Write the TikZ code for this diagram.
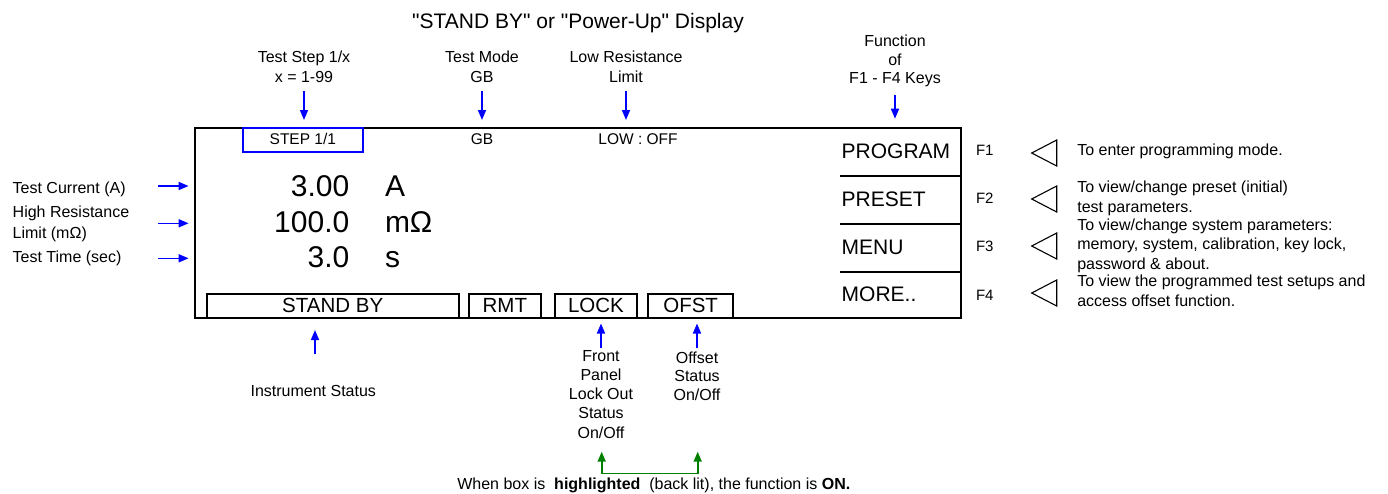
\documentclass[tikz,border=0pt]{standalone}
\usepackage{fontspec}
\setmainfont{Liberation Sans}[Ligatures=TeXOff]
\usetikzlibrary{arrows.meta}
\begin{document}
\begin{tikzpicture}[x=1pt,y=-1pt,
  every node/.style={inner sep=0pt, outer sep=0pt},
  arr/.style={draw=blue, line width=1.6pt, -{Triangle[width=8pt,length=10pt]}},
  garr/.style={draw=green!50!black, line width=1.6pt, {Triangle[width=8pt,length=10pt]}-{Triangle[width=8pt,length=10pt]}},
  lbl/.style={align=center, font=\fontsize{16}{20}\selectfont},
  txt/.style={font=\fontsize{16}{19.5}\selectfont},
  disptxt/.style={font=\fontsize{15.5}{18}\selectfont},
  bignum/.style={font=\fontsize{30}{36}\selectfont},
  menutxt/.style={font=\fontsize{21}{25}\selectfont, anchor=base west},
  ftxt/.style={font=\fontsize{15}{18}\selectfont, anchor=base west},
  desc/.style={align=left, anchor=north west, font=\fontsize{16}{19.5}\selectfont},
  sbox/.style={draw, line width=1.7pt, anchor=south west, minimum height=24pt, font=\fontsize{20.5}{24}\selectfont},
  ktri/.style={draw, line width=1.1pt, line join=miter}
]
\useasboundingbox (0,0) rectangle (1388,493);

% title
\node[font=\fontsize{21}{25}\selectfont, anchor=base] (title) at (578,28) {"STAND BY" or "Power-Up" Display};

% top labels
\node[lbl, anchor=north] (lstep) at (304,51.2) {Test Step 1/x\\x = 1-99};
\node[lbl, anchor=north] (lmode) at (482,51.2) {Test Mode\\GB};
\node[lbl, anchor=north] (llow) at (626,51.2) {Low Resistance\\Limit};
\node[lbl, anchor=north, font=\fontsize{16}{18.3}\selectfont] (lfunc) at (895,35.2) {Function\\of\\F1 - F4 Keys};

% main display
\node[draw, line width=1.7pt, minimum width=766pt, minimum height=190pt, anchor=north west] (disp) at (195,127.7) {};

\node[draw=blue, line width=1.7pt, minimum width=120.3pt, minimum height=24.3pt, anchor=north west,
      text height=11pt, text depth=2.7pt, disptxt] (stepbox) at (242.7,127.7) {STEP 1/1};
\node[disptxt, anchor=base] (gb) at (482,144) {GB};
\node[disptxt, anchor=base] (lowoff) at (638,144) {LOW : OFF};

\node[bignum, anchor=base east] (v1) at (349.3,196) {3.00};
\node[bignum, anchor=base east] (v2) at (349.3,232) {100.0};
\node[bignum, anchor=base east] (v3) at (349.3,267.3) {3.0};
\node[bignum, anchor=base west] (u1) at (385,196) {A};
\node[bignum, anchor=base west] (u2) at (385,232) {mΩ};
\node[bignum, anchor=base west] (u3) at (385,267.3) {s};

% soft key area
\node[menutxt] (prog) at (841.7,158.3) {PROGRAM};
\node[menutxt] (pres) at (841.7,206) {PRESET};
\node[menutxt] (menu) at (841.7,254) {MENU};
\node[menutxt] (more) at (841.7,301.7) {MORE..};
\draw[line width=1.7pt] (840,175.7) -- (960.7,175.7);
\draw[line width=1.7pt] (840,223.7) -- (960.7,223.7);
\draw[line width=1.7pt] (840,272) -- (960.7,272);

% status boxes
\node[sbox, minimum width=252pt] (standby) at (206.7,317.7) {STAND BY};
\node[sbox, minimum width=72.3pt] (rmt) at (468.7,317.7) {RMT};
\node[sbox, minimum width=82.6pt] (lock) at (554.7,317.7) {LOCK};
\node[sbox, minimum width=84.7pt] (ofst) at (648.3,317.7) {OFST};

% F keys
\node[ftxt] (f1) at (976,155) {F1};
\node[ftxt] (f2) at (976,203.3) {F2};
\node[ftxt] (f3) at (976,251.7) {F3};
\node[ftxt] (f4) at (976,300) {F4};
\foreach \yc in {153,199,246,293}
  \draw[ktri] (1031.7,\yc) -- (1056.7,\yc-13) -- (1056.7,\yc+13) -- cycle;

\node[desc] (d1) at (1077.3,143.5) {To enter programming mode.};
\node[desc] (d2) at (1077.3,181.2) {To view/change preset (initial)\\test parameters.};
\node[desc] (d3) at (1077.3,218.5) {To view/change system parameters:\\memory, system, calibration, key lock,\\password \& about.};
\node[desc] (d4) at (1077.3,275.2) {To view the programmed test setups and\\access offset function.};

% left labels
\node[txt, anchor=base west] (lcur) at (12.7,193.3) {Test Current (A)};
\node[align=left, anchor=north west, font=\fontsize{16}{21}\selectfont] (lhigh) at (12.7,205.8) {High Resistance\\Limit (mΩ)};
\node[txt, anchor=base west] (ltime) at (12.7,262.7) {Test Time (sec)};

\coordinate (ca) at (158.3,186);
\coordinate (cb) at (158.3,223.3);
\coordinate (cc) at (158.3,258.3);
\draw[arr, shorten >=6.4pt] (ca) -- (ca -| disp.west);
\draw[arr, shorten >=6.4pt] (cb) -- (cb -| disp.west);
\draw[arr, shorten >=6.4pt] (cc) -- (cc -| disp.west);

% top arrows
\draw[arr, shorten <=8pt, shorten >=7.7pt] (lstep.south) -- (lstep.south |- disp.north);
\draw[arr, shorten <=8pt, shorten >=7.7pt] (lmode.south) -- (lmode.south |- disp.north);
\draw[arr, shorten <=8pt, shorten >=7.7pt] (llow.south) -- (llow.south |- disp.north);
\draw[arr, shorten <=8pt, shorten >=9pt] (lfunc.south) -- (lfunc.south |- disp.north);

% bottom labels
\node[txt, anchor=base] (lis) at (313.3,396) {Instrument Status};
\coordinate (is) at (315,354.3);
\draw[arr, shorten >=12.3pt] (is) -- (is |- standby.south);

\node[lbl, anchor=north, font=\fontsize{16}{19.2}\selectfont] (lfront) at (601,350.2) {Front\\Panel\\Lock Out\\Status\\On/Off};
\node[lbl, anchor=north, font=\fontsize{16}{18.5}\selectfont] (loff) at (697,351.8) {Offset\\Status\\On/Off};
\draw[arr, shorten >=5.8pt] ([yshift=2.2pt]lfront.north) -- (lfront.north |- lock.south);
\draw[arr, shorten >=5.8pt] ([yshift=3.8pt]loff.north) -- (loff.north |- ofst.south);

% green bracket
\coordinate (gl) at (601.7,451.7);
\coordinate (gr) at (697.7,451.7);
\coordinate (gbase) at (650,473.3);
\draw[garr] (gl) -- (gl |- gbase) -- (gr |- gbase) -- (gr);

\node[anchor=base west, font=\fontsize{16}{19}\selectfont] (note) at (457.3,489.3)
  {When box is~ \textbf{highlighted}~ (back lit), the function is \textbf{ON.}};
\end{tikzpicture}
\end{document}
